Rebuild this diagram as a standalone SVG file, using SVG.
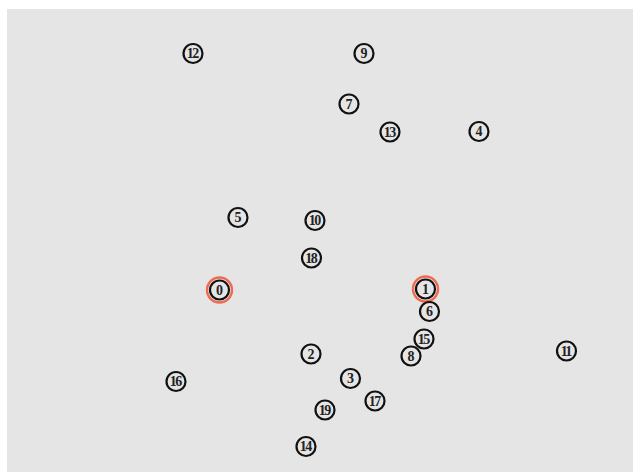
<svg xmlns="http://www.w3.org/2000/svg" width="633" height="472" viewBox="0 0 633 472">
<style>
.n circle.c{fill:none;stroke:#111;stroke-width:2.2}
.n circle.h{fill:none;stroke:#f06a50;stroke-width:2.4}
.n text{font-family:"Liberation Serif",serif;font-size:14px;font-weight:bold;fill:#222;text-anchor:middle;dominant-baseline:central}
.n text.d{letter-spacing:-1.6px}
</style>
<rect width="633" height="472" fill="#ffffff"/>
<rect x="7" y="9" width="626" height="463" fill="#e5e5e5"/>
<g id="connectors"></g>
<g id="node0" class="n"><circle class="h" cx="219.5" cy="290" r="12.5"/><circle class="c" cx="219.5" cy="290" r="9.5"/><text x="219.5" y="290">0</text></g>
<g id="node1" class="n"><circle class="h" cx="425.5" cy="289" r="12.5"/><circle class="c" cx="425.5" cy="289" r="9.5"/><text x="425.5" y="289">1</text></g>
<g id="node2" class="n"><circle class="c" cx="311" cy="354" r="9.5"/><text x="311" y="354">2</text></g>
<g id="node3" class="n"><circle class="c" cx="350.5" cy="378.5" r="9.5"/><text x="350.5" y="378.5">3</text></g>
<g id="node4" class="n"><circle class="c" cx="479" cy="131.5" r="9.5"/><text x="479" y="131.5">4</text></g>
<g id="node5" class="n"><circle class="c" cx="238" cy="217.5" r="9.5"/><text x="238" y="217.5">5</text></g>
<g id="node6" class="n"><circle class="c" cx="429.5" cy="311.5" r="9.5"/><text x="429.5" y="311.5">6</text></g>
<g id="node7" class="n"><circle class="c" cx="349" cy="104" r="9.5"/><text x="349" y="104">7</text></g>
<g id="node8" class="n"><circle class="c" cx="411" cy="356" r="9.5"/><text x="411" y="356">8</text></g>
<g id="node9" class="n"><circle class="c" cx="364" cy="53.5" r="9.5"/><text x="364" y="53.5">9</text></g>
<g id="node10" class="n"><circle class="c" cx="315" cy="220.5" r="9.5"/><text class="d" x="314.2" y="220.5">10</text></g>
<g id="node11" class="n"><circle class="c" cx="566.5" cy="351" r="9.5"/><text class="d" x="565.7" y="351">11</text></g>
<g id="node12" class="n"><circle class="c" cx="193" cy="53.5" r="9.5"/><text class="d" x="192.2" y="53.5">12</text></g>
<g id="node13" class="n"><circle class="c" cx="390" cy="132" r="9.5"/><text class="d" x="389.2" y="132">13</text></g>
<g id="node14" class="n"><circle class="c" cx="306" cy="446.5" r="9.5"/><text class="d" x="305.2" y="446.5">14</text></g>
<g id="node15" class="n"><circle class="c" cx="424" cy="339" r="9.5"/><text class="d" x="423.2" y="339">15</text></g>
<g id="node16" class="n"><circle class="c" cx="176" cy="381.5" r="9.5"/><text class="d" x="175.2" y="381.5">16</text></g>
<g id="node17" class="n"><circle class="c" cx="375" cy="401" r="9.5"/><text class="d" x="374.2" y="401">17</text></g>
<g id="node18" class="n"><circle class="c" cx="311.5" cy="258" r="9.5"/><text class="d" x="310.7" y="258">18</text></g>
<g id="node19" class="n"><circle class="c" cx="325" cy="410" r="9.5"/><text class="d" x="324.2" y="410">19</text></g>
</svg>
